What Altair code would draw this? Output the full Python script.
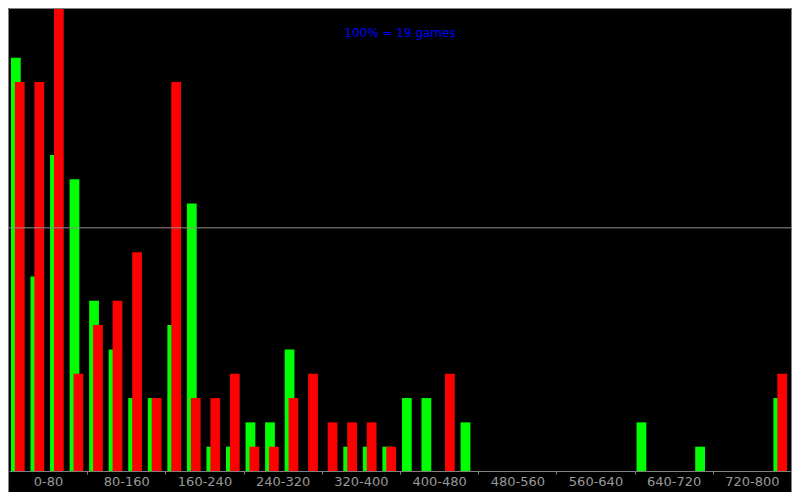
import altair as alt
import pandas as pd

# Games per bin (each bin = 20 points, 40 bins from 0 to 800)
green_counts = [17, 8, 13, 12, 7, 5, 3, 3, 6, 11,
                1, 1, 2, 2, 5, 0, 0, 1, 1, 1,
                3, 3, 0, 2, 0, 0, 0, 0, 0, 0,
                0, 0, 2, 0, 0, 1, 0, 0, 0, 3]
red_counts = [16, 16, 19, 4, 6, 7, 9, 3, 16, 3,
              3, 4, 1, 1, 3, 4, 2, 2, 2, 1,
              0, 0, 4, 0, 0, 0, 0, 0, 0, 0,
              0, 0, 0, 0, 0, 0, 0, 0, 0, 4]
tick_values = [4, 8, 12, 16, 20, 24, 28, 32, 36, 40]
reference_level = [10]
title_text = "100% = 19 games"
full_scale = 19

W, H = 782, 462
N = len(green_counts)

rows = []
for i, (g, r) in enumerate(zip(green_counts, red_counts)):
    rows.append({"series": "green", "bin": i, "start": i + 0.1, "end": i + 0.6, "games": g})
    rows.append({"series": "red", "bin": i, "start": i + 0.3, "end": i + 0.8, "games": r})
df = pd.DataFrame(rows)
df = df[df["games"] > 0]

xscale = alt.Scale(domain=[0, N], nice=False, zero=False)
yscale = alt.Scale(domain=[0, full_scale], nice=False)

xaxis = alt.Axis(
    values=tick_values,
    labelExpr="(datum.value-4)*20 + '-' + datum.value*20",
    labelOffset=-2 * W / N,
    labelFlush=False,
    labelOverlap=False,
    labelColor="#999999",
    labelFont="DejaVu Sans",
    labelFontSize=13,
    labelPadding=1,
    tickColor="#808080",
    tickSize=3,
    domainColor="#808080",
    grid=False,
    title=None,
)

green = alt.Chart(df[df["series"] == "green"]).mark_rect(color="#00FF00").encode(
    x=alt.X("start:Q", scale=xscale, axis=xaxis),
    x2="end:Q",
    y=alt.Y("games:Q", scale=yscale, axis=None),
    y2=alt.datum(0),
)
red = alt.Chart(df[df["series"] == "red"]).mark_rect(color="#FF0000").encode(
    x=alt.X("start:Q", scale=xscale),
    x2="end:Q",
    y=alt.Y("games:Q", scale=yscale),
    y2=alt.datum(0),
)

rule = alt.Chart(pd.DataFrame({"level": reference_level})).mark_rule(
    color="#909090", strokeWidth=1
).encode(y=alt.Y("level:Q", scale=yscale))

title = alt.Chart(pd.DataFrame({"t": [title_text]})).mark_text(
    color="#0000FF", font="DejaVu Sans", fontSize=12, align="center", baseline="middle"
).encode(text="t:N", x=alt.value(W / 2), y=alt.value(24))

frame = alt.Chart(pd.DataFrame({"a": [0]})).mark_rect(
    fill="transparent", stroke="#808080", strokeWidth=1, clip=False
).encode(x=alt.value(-0.5), x2=alt.value(W + 0.5), y=alt.value(-0.5), y2=alt.value(H + 21.5))

chart = alt.layer(green, red, rule, title, frame).properties(
    width=W, height=H,
    background="black",
    padding={"left": 1, "top": 1, "right": 1, "bottom": 21},
    autosize=alt.AutoSizeParams(type="none"),
).configure_view(stroke=None)

chart.save("out.html", embed_options={"renderer": "svg", "actions": False})
